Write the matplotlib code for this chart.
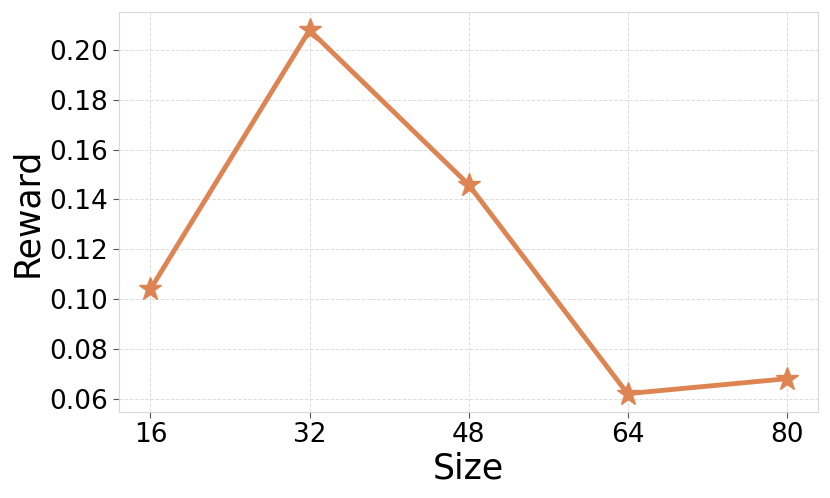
import matplotlib
matplotlib.use('Agg')
import matplotlib.pyplot as plt

# data
sizes = [16, 32, 48, 64, 80]
reward = [0.104, 0.208, 0.146, 0.062, 0.068]
y_ticks = [0.06, 0.08, 0.10, 0.12, 0.14, 0.16, 0.18, 0.20]

fig, ax = plt.subplots(figsize=(8.3, 4.98), dpi=100)

ax.plot(sizes, reward, color='#dd8452', linewidth=3.5, marker='*', markersize=17)

ax.set_xticks(sizes)
ax.set_yticks(y_ticks)
ax.set_yticklabels(['{:.2f}'.format(t) for t in y_ticks])
ax.tick_params(axis='both', labelsize=19, color='#555555', length=4)

ax.set_xlabel('Size', fontsize=25, labelpad=2)
ax.set_ylabel('Reward', fontsize=25)

ax.grid(True, linestyle='--', color='#dddddd', linewidth=0.7)
for s in ax.spines.values():
    s.set_color('#d8d8d8')

fig.subplots_adjust(left=0.143, right=0.986, top=0.976, bottom=0.173)
fig.savefig('out.png', dpi=100)
